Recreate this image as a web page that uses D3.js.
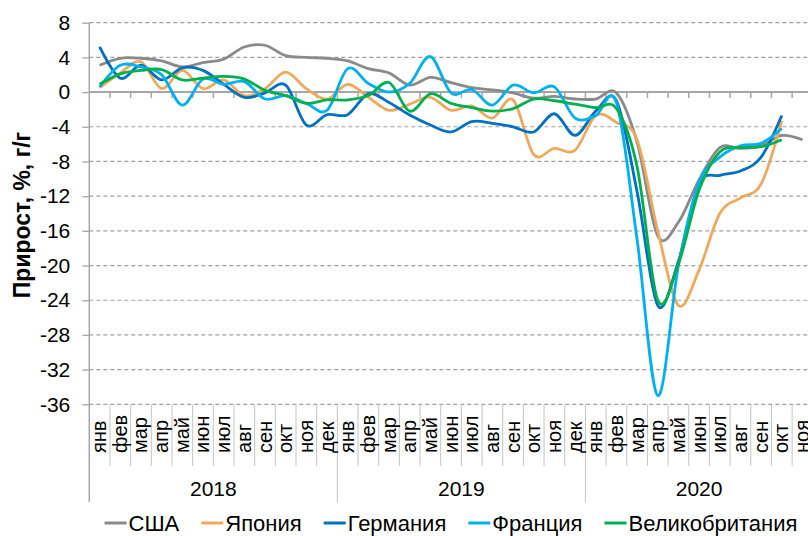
<!DOCTYPE html>
<html>
<head>
<meta charset="utf-8">
<script src="https://cdn.jsdelivr.net/npm/d3@7"></script>
<style>
  body { margin: 0; background: #ffffff; }
  #my_dataviz svg text { font-family: "Liberation Sans", Arial, sans-serif; fill: #000; }
</style>
</head>
<body>
<div id="my_dataviz"></div>
<script>
// categories
const months = ["янв","фев","мар","апр","май","июн","июл","авг","сен","окт","ноя","дек"];
const years = ["2018", "2019", "2020"];
const monthsPerYear = [12, 12, 11];
const yTicks = [8, 4, 0, -4, -8, -12, -16, -20, -24, -28, -32, -36];

// series, % y/y (jan 2018 ... nov 2020)
const usa = [3.1, 3.9, 3.9, 3.6, 2.9, 3.4, 3.8, 5.2, 5.4, 4.2, 4.0, 3.9,
             3.6, 2.7, 2.2, 0.8, 1.7, 1.1, 0.5, 0.25, -0.1, -0.7, -0.5, -0.8,
             -0.8, -0.1, -5.8, -16.6, -15.0, -10.1, -6.4, -6.5, -6.2, -5.0, -5.5];
const japan = [0.5, 2.2, 3.5, 0.4, 2.5, 0.4, 1.4, -0.4, 0.4, 2.3, 0.4, -0.8,
               0.9, -0.6, -2.1, -1.4, -0.6, -2.1, -1.6, -3.0, -0.9, -7.2, -6.5, -6.7,
               -2.7, -3.5, -5.5, -16.0, -24.6, -20.5, -14.0, -12.2, -10.6, -3.3];
const germany = [5.2, 1.6, 3.1, 1.4, 2.8, 2.5, 0.9, -0.6, -0.1, 0.8, -3.8, -2.6,
                 -2.6, -0.2, -1.2, -2.65, -3.8, -4.6, -3.4, -3.6, -4.0, -4.6, -2.5, -5.0,
                 -2.2, -1.0, -11.5, -24.6, -19.5, -10.6, -9.6, -9.1, -7.5, -2.7];
const france = [0.6, 3.1, 2.9, 2.0, -1.5, 1.5, 0.9, 1.2, -0.8, -0.4, -1.3, -2.1,
                2.7, 1.0, 0.0, 1.0, 4.1, -0.1, 0.3, -1.5, 0.8, -0.1, 0.6, -3.0,
                -2.7, -1.2, -17.0, -35.0, -20.0, -10.4, -7.5, -6.2, -5.9, -4.2];
const uk = [0.9, 2.1, 2.5, 2.6, 1.4, 1.6, 1.8, 1.5, 0.2, -0.4, -1.3, -0.9,
            -0.9, -0.4, 1.1, -2.2, -0.2, -1.3, -1.8, -2.2, -1.9, -0.8, -1.0, -1.4,
            -1.8, -1.9, -8.6, -24.0, -19.8, -11.3, -6.9, -6.4, -6.3, -5.5];

const seriesNames = ["США", "Япония", "Германия", "Франция", "Великобритания"];
const seriesValues = [usa, japan, germany, france, uk];
const seriesColors = ["#8a8a8a", "#eeaa5c", "#0070c0", "#00b0f0", "#00b050"];

function generate_chart(){
  const width = 808, height = 536;
  // plot area (it runs a little past the right edge, like the original)
  const plot = {left: 89.3, right: 812.8, top: 22.7, bottom: 404.3};

  const svg = d3.select("#my_dataviz")
    .append("svg")
      .attr("width", width)
      .attr("height", height);

  // category keys "2018|янв" ...
  const cats = [];
  const yearOfCat = [];
  years.forEach(function(yr, yi){
    for (let m = 0; m < monthsPerYear[yi]; m++) {
      cats.push(yr + "|" + months[m]);
      yearOfCat.push(yi);
    }
  });

  const x = d3.scaleBand()
    .domain(cats)
    .range([plot.left, plot.right]);
  const bw = x.bandwidth();

  const y = d3.scaleLinear()
    .domain([-36, 8])
    .range([plot.bottom, plot.top]);

  const axisColor = "#a6a6a6";

  // dashed gridlines
  svg.append("g")
    .selectAll("line")
    .data(yTicks.filter(d => d !== 0))
    .join("line")
      .attr("x1", plot.left)
      .attr("x2", plot.right)
      .attr("y1", d => y(d))
      .attr("y2", d => y(d))
      .attr("stroke", "#a0a0a0")
      .attr("stroke-width", 1.2)
      .attr("stroke-dasharray", "4,3");

  // y axis
  const yAxis = svg.append("g")
    .attr("transform", `translate(${plot.left},0)`)
    .call(d3.axisLeft(y).tickValues(yTicks).tickSize(7).tickPadding(12).tickFormat(d3.format("d")));
  yAxis.select(".domain").remove();
  yAxis.selectAll(".tick line").attr("stroke", axisColor).attr("stroke-width", 1.3);
  yAxis.selectAll(".tick text")
    .style("font-size", "21px")
    .style("font-family", "'Liberation Sans', Arial, sans-serif")
    .attr("fill", "#000")
    .text(d => d < 0 ? "-" + Math.abs(d) : d);

  // left axis line, down through the category area
  svg.append("line")
    .attr("x1", plot.left).attr("x2", plot.left)
    .attr("y1", plot.top).attr("y2", 502)
    .attr("stroke", axisColor)
    .attr("stroke-width", 1.5);

  // x axis line at zero, ticks between months
  svg.append("line")
    .attr("x1", plot.left).attr("x2", plot.right)
    .attr("y1", y(0)).attr("y2", y(0))
    .attr("stroke", axisColor)
    .attr("stroke-width", 2);
  svg.append("g")
    .selectAll("line")
    .data(cats)
    .join("line")
      .attr("x1", d => x(d) + bw).attr("x2", d => x(d) + bw)
      .attr("y1", y(0)).attr("y2", y(0) + 6)
      .attr("stroke", axisColor)
      .attr("stroke-width", 1.5);

  // separators in the label area
  svg.append("g")
    .selectAll("line")
    .data(cats)
    .join("line")
      .attr("x1", d => x(d) + bw).attr("x2", d => x(d) + bw)
      .attr("y1", plot.bottom)
      .attr("y2", (d, i) => (i === cats.length - 1 || yearOfCat[i + 1] !== yearOfCat[i]) ? 502 : 466)
      .attr("stroke", "#c4c4c4")
      .attr("stroke-width", 1);

  // month labels
  svg.append("g")
    .selectAll("text")
    .data(cats)
    .join("text")
      .attr("transform", d => `translate(${x(d) + bw / 2 + 6.5},453) rotate(-90)`)
      .style("font-size", "20px")
      .style("text-anchor", "start")
      .text(d => d.split("|")[1]);

  // year labels
  let start = 0;
  years.forEach(function(yr, yi){
    const first = cats[start], last = cats[start + monthsPerYear[yi] - 1];
    svg.append("text")
      .attr("x", (x(first) + x(last) + bw) / 2)
      .attr("y", 496)
      .style("font-size", "21px")
      .style("text-anchor", "middle")
      .text(yr);
    start += monthsPerYear[yi];
  });

  // y axis title
  svg.append("text")
    .attr("transform", "translate(30,215) rotate(-90)")
    .style("text-anchor", "middle")
    .style("font-size", "23px")
    .style("font-weight", "bold")
    .text("Прирост, %, г/г");

  // lines (smoothed like the excel original)
  const line = d3.line()
    .x(d => x(d.cat) + bw / 2)
    .y(d => y(d.value))
    .curve(d3.curveCardinal.tension(0));

  const dataReady = seriesNames.map(function(name, i){
    return {
      name: name,
      color: seriesColors[i],
      values: seriesValues[i].map((v, j) => ({cat: cats[j], value: v}))
    };
  });

  svg.append("g")
    .selectAll("path")
    .data(dataReady)
    .join("path")
      .attr("d", d => line(d.values))
      .attr("stroke", d => d.color)
      .attr("stroke-width", 2.8)
      .attr("fill", "none")
      .attr("stroke-linejoin", "round");

  // legend
  const legend = svg.append("g");
  const gap = 22;
  let lx = 0;
  dataReady.forEach(function(d){
    const item = legend.append("g").attr("transform", `translate(${lx},0)`);
    item.append("line")
      .attr("x1", 0).attr("x2", 22)
      .attr("y1", 0).attr("y2", 0)
      .attr("stroke", d.color)
      .attr("stroke-width", 3);
    const t = item.append("text")
      .attr("x", 24)
      .attr("y", 7.5)
      .style("font-size", "22px")
      .text(d.name);
    lx += 24 + t.node().getComputedTextLength() + gap;
  });
  const legendWidth = lx - gap;
  legend.attr("transform", `translate(${451 - legendWidth / 2},523)`);
}

generate_chart();
</script>
</body>
</html>
